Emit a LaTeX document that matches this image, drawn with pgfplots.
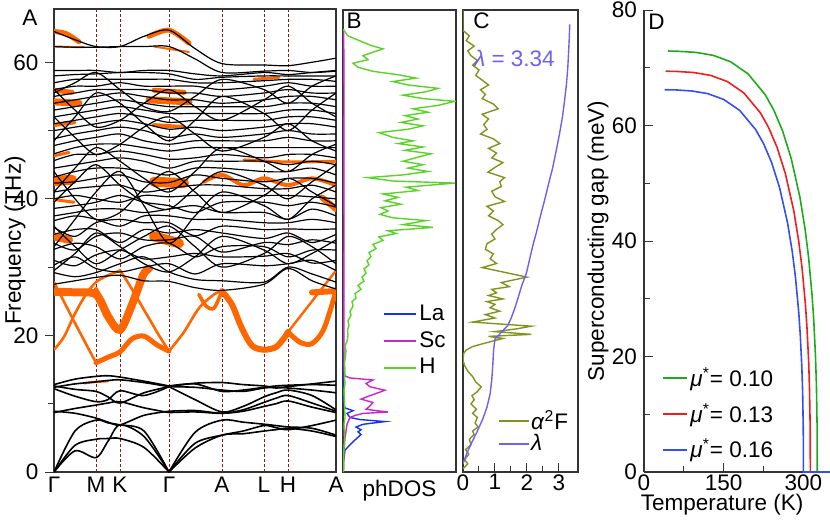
\documentclass[border=0pt]{standalone}
\usepackage{fontspec}
\setmainfont{Liberation Sans}
\usepackage{pgfplots}
\usepackage{pgfplotstable}
\pgfplotsset{compat=1.18}

\newcommand\ff{\fontsize{11.25}{13.5}\selectfont}

\definecolor{orng}{RGB}{255,102,0}
\definecolor{vlc}{RGB}{140,26,26}
\definecolor{laBlue}{RGB}{20,50,240}
\definecolor{scMag}{RGB}{200,40,200}
\definecolor{hGreen}{RGB}{90,210,40}
\definecolor{olive2}{RGB}{128,148,30}
\definecolor{lamCol}{RGB}{112,96,240}
\definecolor{dGreen}{RGB}{30,170,30}
\definecolor{dRed}{RGB}{240,30,30}
\definecolor{dBlue}{RGB}{50,80,240}

\pgfplotsset{
  panel/.style={scale only axis, anchor=south west, font=\ff,
    tick label style={font=\ff}, label style={font=\ff},
    xticklabel style={inner sep=1pt},
    /pgf/number format/assume math mode=true,
    axis line style={black!80, line width=0.6pt},
    tick style={black!80, line width=0.5pt}},
  bk/.style={black, line width=0.6pt, smooth},
  fat/.style={draw=orng, line width=#1, line cap=round, smooth},
  vl/.style={vlc, line width=0.5pt, dash pattern=on 1.5pt off 1pt},
}

% low-frequency branches (heavy atoms), x = path position
\pgfplotstableread{
x     b1   b2   b3   b4   b5   b6   b7   b8   b9
0     0    0    0    8.9  8.7  12.2 12.6 12.4 12.8
21    3.1  3.9  6.0  8.6  9.3  11.1 12.1 12.9 13.6
42    2.1  4.8  7.6  7.9  9.8  10.3 11.8 13.2 14.0
54    4.5  4.9  7.2  7.3  10.1 10.6 11.0 13.4 14.1
66    6.9  4.9  6.9  6.9  10.3 11.9 10.1 13.5 13.9
90    5.2  3.6  6.0  8.3  9.4  11.2 11.6 13.1 13.3
115   0    0    0    8.9  8.7  12.5 12.5 12.5 12.6
141   3.5  4.2  5.8  9.0  8.8  10.6 12.4 13.0 12.9
168   5.4  5.4  7.6  8.6  8.6  8.8  12.0 13.1 11.8
189   5.6  6.0  7.3  8.9  9.1  9.6  11.8 12.8 12.0
210   6.0  6.8  7.0  9.6  10.2 11.0 12.3 12.6 12.4
222   6.2  6.5  6.8  10.0 10.8 11.6 12.4 12.3 12.6
234   6.4  6.2  6.6  10.4 11.2 12.0 12.3 12.5 12.7
258   6.0  6.8  6.4  9.5  10.1 11.2 12.0 12.9 12.8
282   5.2  7.6  5.4  8.7  8.9  9.1  11.6 13.3 12.7
}\lowtab

\begin{document}
\begin{tikzpicture}
\useasboundingbox (0,0) rectangle (415pt,260.5pt);

% ---------------- A: phonon bands
\begin{axis}[panel, at={(27pt,24.5pt)}, width=141pt, height=231.5pt,
  xmin=0, xmax=282, ymin=0, ymax=67.8,
  xtick={0,42,66,115,168,210,234,282},
  xticklabels={Γ,M,K,Γ,A,L,H,A},
  x tick style={draw=none}, xticklabel style={yshift=3pt},
  ytick={0,20,40,60}, minor ytick={10,30,50},
  ytick pos=left, tick align=outside,
  ylabel={Frequency (THz)},
  ylabel style={at={(axis description cs:-0.138,0.5)}, anchor=center}]
\pgfplotsinvokeforeach{42,66,115,168,210,234}{
  \addplot[vl] coordinates {(#1,0) (#1,67.8)};
}
% fat bands (H weight)
\addplot[fat=4pt] coordinates {(0,26.4)(21,26.3)(42,26.0)(54,22.8)(66,20.8)(78,24.5)(89,28.8)(95,29.8)};
\addplot[fat=2pt] coordinates {(42,26.8)(50,24.6)(60,21.6)(66,20.6)};
\addplot[fat=1.3pt] coordinates {(0,17.9)(10,19.8)(21,23.2)(32,26.0)(42,27.8)(54,28.8)(66,29.5)};
\addplot[fat=1.3pt] coordinates {(0,27.8)(21,21.8)(42,16.0)};
\addplot[fat=2.5pt] coordinates {(42,16.0)(54,16.8)(66,17.6)(78,19.5)(90,19.9)(103,18.6)(115,17.7)};
\addplot[fat=1.3pt] coordinates {(115,17.7)(105,20)(95,22.5)(85,25)(75,27.5)(66,29.5)};
\addplot[fat=1.3pt] coordinates {(115,17.7)(130,20.5)(145,24.0)(160,26.0)(168,26.5)};
\addplot[fat=1.8pt] coordinates {(145,26.0)(152,24.3)(160,24.0)(168,26.5)};
\addplot[fat=3pt] coordinates {(168,26.5)(178,24.5)(188,21.0)(198,18.5)(210,17.9)(222,18.3)(230,19.6)(234,20.5)};
\addplot[fat=2.5pt] coordinates {(234,20.5)(246,19.0)(258,18.8)(270,21.0)(282,26.5)};
\addplot[fat=1.2pt] coordinates {(234,20.5)(258,25.0)(282,29.5)};
\addplot[fat=3pt] coordinates {(258,26.3)(270,26.4)(282,26.5)};
\addplot[fat=1.2pt] coordinates {(30,13.0)(42,13.2)(54,13.3)};
\addplot[fat=2.5pt] coordinates {(0,64.5)(12,64.2)(25,63.0)};
\addplot[fat=2.5pt] coordinates {(95,63.8)(115,64.7)(135,62.8)};
\addplot[fat=1pt] coordinates {(0,62.3)(30,62.2)};
\addplot[fat=1pt] coordinates {(100,62.3)(135,61.5)};
\addplot[fat=2.5pt] coordinates {(0,55.9)(18,55.6)};
\addplot[fat=2.5pt] coordinates {(100,55.9)(130,55.6)};
\addplot[fat=3.5pt] coordinates {(0,54.2)(25,54.0)};
\addplot[fat=3.5pt] coordinates {(95,54.5)(135,54.2)};
\addplot[fat=2pt] coordinates {(0,50.8)(20,51.2)};
\addplot[fat=2pt] coordinates {(100,50.8)(130,50.5)};
\addplot[fat=1.5pt] coordinates {(0,46.3)(15,46.8)};
\addplot[fat=5pt] coordinates {(0,42.6)(18,42.8)};
\addplot[fat=5pt] coordinates {(100,42.5)(130,42.3)};
\addplot[fat=1.5pt] coordinates {(0,39.9)(20,39.5)};
\addplot[fat=4pt] coordinates {(0,34.5)(15,34.0)};
\addplot[fat=5pt] coordinates {(100,34.5)(125,33.5)};
\addplot[fat=2pt] coordinates {(150,42.5)(168,43.5)(190,42.0)(210,43.0)(234,42.0)(258,43.0)(282,42.0)};
\addplot[fat=1.5pt] coordinates {(190,45.7)(234,45.4)(282,45.5)};
\addplot[fat=3pt] coordinates {(268,40.2)(282,38.5)};
\addplot[fat=1.5pt] coordinates {(200,57.5)(225,57.8)};
% upper branches
\addplot[bk] coordinates {(0,27.5)(21,28.0)(42,28.5)(66,28.8)(90,28.0)(115,27.9)(141,27.0)(168,26.6)(210,27.5)(234,29.8)(258,28.0)(282,26.8)};
\addplot[bk] coordinates {(0,29.2)(21,28.6)(42,29.2)(66,30.5)(90,31.5)(115,29.3)(141,28.2)(168,28.0)(210,27.8)(234,30.0)(258,29.0)(282,27.8)};
\addplot[bk] coordinates {(0,30.3)(21,31.5)(42,29.8)(66,29.3)(90,30.0)(115,30.5)(141,29.0)(168,30.5)(210,30.2)(234,30.5)(258,31.0)(282,29.5)};
\addplot[bk] coordinates {(0,31.0)(21,30.2)(42,31.8)(66,32.5)(90,31.2)(115,31.5)(141,32.0)(168,31.5)(210,31.6)(234,32.0)(258,30.6)(282,31.0)};
\addplot[bk] coordinates {(0,32.6)(21,33.5)(42,33.0)(66,31.2)(90,33.0)(115,33.5)(141,31.5)(168,33.0)(210,33.0)(234,31.5)(258,32.5)(282,32.5)};
\addplot[bk] coordinates {(0,33.5)(21,32.5)(42,34.5)(66,35.0)(90,34.0)(115,34.0)(141,34.5)(168,32.2)(210,33.6)(234,33.3)(258,34.0)(282,33.5)};
\addplot[bk] coordinates {(0,34.8)(21,35.5)(42,35.5)(66,33.6)(90,35.5)(115,35.0)(141,35.5)(168,35.0)(210,34.2)(234,35.0)(258,33.6)(282,34.8)};
\addplot[bk] coordinates {(0,35.8)(21,34.5)(42,36.5)(66,37.0)(90,36.5)(115,36.5)(141,34.6)(168,36.0)(210,35.5)(234,35.6)(258,35.5)(282,35.6)};
\addplot[bk] coordinates {(0,36.8)(21,37.5)(42,37.0)(66,36.0)(90,37.5)(115,37.5)(141,37.0)(168,37.0)(210,36.5)(234,36.5)(258,37.0)(282,36.5)};
\addplot[bk] coordinates {(0,37.5)(21,38.0)(42,38.5)(66,38.5)(90,38.0)(115,38.5)(141,39.0)(168,38.0)(210,38.0)(234,37.0)(258,38.5)(282,37.5)};
\addplot[bk] coordinates {(0,38.6)(21,39.0)(42,39.5)(66,40.5)(90,39.5)(115,39.0)(141,38.0)(168,39.5)(210,39.5)(234,39.0)(258,39.5)(282,38.8)};
\addplot[bk] coordinates {(0,40.0)(21,40.5)(42,40.0)(66,39.5)(90,40.5)(115,40.3)(141,40.5)(168,40.5)(210,40.5)(234,40.5)(258,40.3)(282,40.0)};
\addplot[bk] coordinates {(0,41.0)(21,41.5)(42,41.8)(66,42.0)(90,41.0)(115,41.5)(141,42.0)(168,42.0)(210,41.5)(234,41.5)(258,42.0)(282,41.0)};
\addplot[bk] coordinates {(0,42.3)(21,42.5)(42,43.0)(66,43.5)(90,42.5)(115,42.4)(141,43.5)(168,43.0)(210,42.5)(234,43.0)(258,43.0)(282,42.3)};
\addplot[bk] coordinates {(0,43.2)(21,44.0)(42,44.5)(66,44.5)(90,44.0)(115,43.5)(141,44.5)(168,44.5)(210,44.0)(234,44.0)(258,44.5)(282,43.5)};
\addplot[bk] coordinates {(0,44.5)(21,45.0)(42,45.5)(66,46.0)(90,45.5)(115,44.5)(141,45.5)(168,45.5)(210,45.5)(234,45.0)(258,45.5)(282,45.0)};
\addplot[bk] coordinates {(0,45.6)(21,46.5)(42,46.5)(66,47.0)(90,46.5)(115,45.8)(141,46.0)(168,46.5)(210,46.0)(234,46.5)(258,46.5)(282,46.0)};
\addplot[bk] coordinates {(0,46.6)(21,47.5)(42,48.0)(66,48.0)(90,47.5)(115,47.0)(141,47.5)(168,47.5)(210,47.5)(234,47.5)(258,47.5)(282,47.5)};
\addplot[bk] coordinates {(0,47.8)(21,48.5)(42,49.0)(66,49.5)(90,48.5)(115,48.0)(141,48.5)(168,48.5)(210,48.5)(234,49.0)(258,48.5)(282,48.5)};
\addplot[bk] coordinates {(0,48.8)(21,49.5)(42,50.0)(66,50.5)(90,50.0)(115,49.0)(141,49.5)(168,49.0)(210,49.5)(234,50.0)(258,49.5)(282,49.5)};
\addplot[bk] coordinates {(0,50.0)(21,50.5)(42,51.0)(66,51.5)(90,51.0)(115,50.2)(141,50.5)(168,50.0)(210,50.5)(234,51.0)(258,51.0)(282,50.5)};
\addplot[bk] coordinates {(0,51.0)(21,51.5)(42,52.0)(66,52.5)(90,52.0)(115,51.2)(141,51.5)(168,51.5)(210,51.5)(234,52.0)(258,52.0)(282,51.5)};
\addplot[bk] coordinates {(0,52.0)(21,52.5)(42,53.0)(66,53.5)(90,53.0)(115,52.5)(141,52.5)(168,52.5)(210,52.5)(234,53.0)(258,53.0)(282,52.5)};
\addplot[bk] coordinates {(0,53.0)(21,53.5)(42,54.0)(66,54.5)(90,54.0)(115,53.5)(141,53.5)(168,53.5)(210,53.5)(234,54.0)(258,54.0)(282,53.5)};
\addplot[bk] coordinates {(0,54.0)(21,54.5)(42,55.0)(66,55.5)(90,55.0)(115,54.5)(141,54.5)(168,54.0)(210,54.5)(234,55.0)(258,55.0)(282,54.5)};
\addplot[bk] coordinates {(0,55.0)(21,55.5)(42,56.0)(66,56.0)(90,56.0)(115,55.5)(141,55.5)(168,55.0)(210,55.5)(234,56.0)(258,55.5)(282,55.5)};
\addplot[bk] coordinates {(0,56.0)(21,56.5)(42,56.5)(66,57.0)(90,56.5)(115,56.5)(141,56.5)(168,56.0)(210,56.5)(234,57.0)(258,56.5)(282,56.5)};
\addplot[bk] coordinates {(0,57.0)(21,57.5)(42,57.5)(66,57.5)(90,57.5)(115,57.5)(141,57.0)(168,57.0)(210,57.3)(234,57.5)(258,57.5)(282,57.2)};
\addplot[bk] coordinates {(0,58.0)(21,58.2)(42,58.3)(66,58.5)(90,58.5)(115,58.3)(141,57.5)(168,57.8)(210,58.0)(234,58.0)(258,58.0)(282,58.0)};
\addplot[bk] coordinates {(0,58.8)(21,58.8)(42,58.8)(66,58.5)(90,58.8)(115,58.8)(141,58.3)(168,58.0)(210,58.5)(234,58.2)(258,58.5)(282,58.8)};
\addplot[bk] coordinates {(0,33.0)(21,37.0)(42,41.0)(66,44.0)(90,39.0)(115,33.5)(141,37.5)(168,41.0)(210,39.0)(234,37.0)(258,40.0)(282,42.0)};
\addplot[bk] coordinates {(0,44.0)(21,40.0)(42,37.0)(66,38.0)(90,41.5)(115,44.0)(141,41.0)(168,38.0)(210,40.5)(234,43.0)(258,41.0)(282,39.0)};
\addplot[bk] coordinates {(0,52.0)(21,49.0)(42,46.5)(66,48.0)(90,50.5)(115,52.0)(141,49.5)(168,47.0)(210,49.0)(234,51.0)(258,48.5)(282,47.0)};
\addplot[bk] coordinates {(0,48.5)(21,52.0)(42,55.5)(66,54.0)(90,51.0)(115,48.5)(141,51.5)(168,55.0)(210,52.5)(234,50.0)(258,53.0)(282,55.5)};
\addplot[bk] coordinates {(0,56.0)(21,53.0)(42,50.5)(66,51.5)(90,54.0)(115,56.0)(141,53.5)(168,51.5)(210,54.5)(234,56.5)(258,54.0)(282,52.0)};
\addplot[bk] coordinates {(0,41.0)(21,44.5)(42,47.5)(66,45.5)(90,43.0)(115,41.0)(141,44.0)(168,47.5)(210,45.5)(234,44.0)(258,46.5)(282,48.0)};
\addplot[bk] coordinates {(0,36.0)(21,33.0)(42,30.5)(66,32.5)(90,34.5)(115,36.0)(141,33.0)(168,30.0)(210,32.0)(234,34.5)(258,33.0)(282,30.5)};
\addplot[bk] coordinates {(0,29.5)(21,32.0)(42,35.0)(66,33.0)(90,30.5)(115,29.3)(141,31.5)(168,34.5)(210,32.5)(234,30.5)(258,32.0)(282,34.0)};
\addplot[bk] coordinates {(0,39.5)(21,42.5)(42,45.0)(66,42.0)(90,39.5)(115,38.5)(141,41.5)(168,44.0)(210,42.0)(234,40.0)(258,42.5)(282,45.0)};
\addplot[bk] coordinates {(0,55.5)(21,57.0)(42,58.5)(66,56.0)(90,53.5)(115,52.8)(141,55.0)(168,57.5)(210,56.0)(234,54.0)(258,56.5)(282,58.0)};
\addplot[bk] coordinates {(0,64.5)(21,63.3)(42,62.3)(66,62.3)(90,63.8)(115,64.7)(141,62.0)(168,59.8)(210,59.6)(234,59.5)(258,60.0)(282,60.6)};
\addplot[bk] coordinates {(0,62.3)(21,62.2)(42,62.2)(66,62.3)(90,62.3)(115,62.3)(141,60.5)(168,58.5)(210,58.7)(234,58.8)(258,58.5)(282,58.7)};
% low branches, split at the second Gamma
\pgfplotsinvokeforeach{1,...,9}{
  \addplot[bk, line width=0.8pt, restrict x to domain=0:115] table[x=x, y=b#1] {\lowtab};
  \addplot[bk, line width=0.8pt, restrict x to domain=115:282] table[x=x, y=b#1] {\lowtab};
}
\end{axis}
\node[font=\ff] at (15pt,251.5pt) {A};

% ---------------- B: phonon DOS
\begin{axis}[panel, at={(171.5pt,24.5pt)}, width=56.5pt, height=231pt,
  xmin=0, xmax=113, ymin=0, ymax=67.8, xtick=\empty, ytick=\empty,
  xlabel={phDOS},
  xlabel style={at={(axis description cs:0.5,-0.04)}, anchor=center},
  legend cell align=left,
  legend style={draw=none, fill=none, font=\ff, at={(rel axis cs:0.3,0.375)},
    anchor=north west, nodes={inner sep=1pt}, row sep=2pt}]
\addplot[color=laBlue, line width=0.7pt, forget plot] coordinates {(0.5,1.5)(2,3.2)(7,4.0)(12,4.7)(18,5.5)(15,5.9)(18,6.2)(13,6.6)(20,7.0)(42,7.4)(17,7.7)(7,8.0)(4,8.6)(10,9.0)(2,9.4)(1,10)(0.5,12)(0.3,20)};
\addplot[color=scMag, line width=0.7pt, forget plot] coordinates {(0.5,0)(1,3)(2,5)(4,7)(7,8.0)(12,8.3)(20,8.6)(45,8.8)(23,9.2)(27,9.7)(30,10.2)(18,10.7)(27,11.2)(42,12.0)(27,12.5)(23,13.0)(30,13.5)(7,13.8)(2,14.1)(1,15)(0.8,25)(1,35)(0.8,45)(1,55)(0.8,62)(0.5,65)};
\addplot[color=hGreen, line width=0.7pt, forget plot] coordinates {(0.5,0)(0.8,3)(1.5,5)(1,7)(2,8)(1.5,10)(1,12)(2,13)(1.5,14)(2,15)(1.5,16)(2.5,17)(3,17.8)(2,18.5)(4,19.2)(5,20)(4.5,20.8)(6,21.5)(5,22.2)(8,23)(7,23.6)(10,24.3)(9,25)(13,25.5)(12,26.2)(18,26.8)(15,27.4)(21,28)(19,28.6)(23,29.2)(21,29.8)(26,30.4)(24,31)(28,31.6)(26,32.2)(33,32.8)(30,33.4)(40,34)(36,34.5)(53,35)(45,35.4)(90,35.9)(60,36.3)(83,36.9)(50,37.3)(37,37.8)(45,38.3)(38,38.8)(58,39.3)(42,39.8)(55,40.3)(40,40.8)(75,41.3)(63,41.8)(112,42.4)(50,42.7)(25,43.2)(60,43.6)(85,44.1)(65,44.6)(80,45.1)(60,45.6)(75,46.2)(88,46.7)(62,47.2)(80,47.7)(55,48.2)(70,48.6)(50,49.1)(36,49.8)(65,50.3)(80,50.8)(58,51.3)(75,51.8)(62,52.3)(85,52.8)(70,53.3)(95,53.8)(112,54.4)(80,54.8)(60,55.3)(83,55.8)(95,56.3)(65,56.8)(50,57.3)(73,57.8)(55,58.3)(30,58.8)(15,59.4)(10,60)(25,60.5)(20,61.1)(40,62.1)(28,62.6)(18,63.2)(5,64)(0,65)};
\addlegendimage{legend image code/.code={\draw[color=laBlue, line width=1pt] (0pt,0pt) -- (16pt,0pt);}}
\addlegendentry{La}
\addlegendimage{legend image code/.code={\draw[color=scMag, line width=1pt] (0pt,0pt) -- (16pt,0pt);}}
\addlegendentry{Sc}
\addlegendimage{legend image code/.code={\draw[color=hGreen, line width=1pt] (0pt,0pt) -- (16pt,0pt);}}
\addlegendentry{H}
\end{axis}
\node[font=\ff] at (177pt,250pt) {B};

% ---------------- C: Eliashberg function and lambda
\begin{axis}[panel, at={(231.5pt,24.5pt)}, width=57.5pt, height=231pt,
  xmin=0, xmax=3.6, ymin=0, ymax=67.8,
  xtick={0,1,2,3}, minor tick num=1, xtick pos=bottom, tick align=inside,
  ytick=\empty,
  legend cell align=left,
  legend style={draw=none, fill=none, font=\ff, at={(rel axis cs:0.25,0.145)},
    anchor=north west, nodes={inner sep=0.5pt}, row sep=0pt}]
\addplot[color=olive2, line width=0.7pt, forget plot] coordinates {(0.00,0.5)(0.15,1.2)(0.05,1.8)(0.18,2.6)(0.08,3.3)(0.25,4.0)(0.20,4.8)(0.35,5.5)(0.30,6.0)(0.47,6.6)(0.38,7.2)(0.45,8.0)(0.30,8.6)(0.42,9.2)(0.25,10.0)(0.35,10.6)(0.28,11.2)(0.45,11.8)(0.57,12.5)(0.40,13.2)(0.30,14.0)(0.15,14.8)(0.05,15.6)(0.00,16.4)(0.02,17.4)(0.10,17.9)(0.30,18.4)(0.60,18.8)(1.25,19.6)(0.80,19.9)(2.14,20.2)(1.00,20.6)(1.67,21.0)(2.14,21.4)(0.30,22.0)(1.00,22.6)(0.70,23.1)(1.15,23.6)(0.85,24.1)(1.00,24.6)(0.75,25.0)(1.25,25.4)(0.80,25.9)(1.05,26.3)(0.90,26.8)(1.45,27.2)(1.20,27.8)(2.00,28.6)(1.30,29.3)(0.60,30.0)(1.05,30.6)(0.85,31.3)(0.95,32.0)(0.70,32.7)(0.75,33.5)(1.00,34.2)(0.90,34.9)(1.05,35.6)(1.25,36.3)(1.10,36.9)(0.80,37.6)(0.95,38.3)(0.75,39.0)(1.30,39.7)(1.00,40.4)(0.90,41.2)(1.20,41.9)(1.15,42.6)(1.30,43.2)(0.78,44.0)(1.00,44.7)(1.25,45.4)(0.90,46.1)(1.05,46.8)(0.80,47.5)(1.15,48.2)(0.95,48.9)(0.55,49.6)(0.75,50.3)(0.65,51.0)(0.80,51.8)(0.60,52.5)(1.10,53.3)(0.95,54.0)(0.60,54.8)(0.70,55.4)(0.55,56.1)(0.80,56.8)(0.60,57.5)(0.40,58.2)(0.50,59.0)(0.30,59.7)(0.45,60.4)(0.25,61.1)(0.15,61.8)(0.35,62.5)(0.10,63.3)(0.20,64.0)(0.00,64.8)(0.00,67.8)};
\addplot[color=lamCol, line width=0.7pt, forget plot] coordinates {(0.00,1.2)(0.10,2.5)(0.26,4.2)(0.45,6.0)(0.62,7.8)(0.75,9.5)(0.85,11.5)(0.90,13.5)(0.93,15.5)(0.96,18.0)(1.00,19.5)(1.20,20.5)(1.40,21.5)(1.50,22.5)(1.62,24.0)(1.72,25.5)(1.85,27.5)(1.98,29.1)(2.10,31.5)(2.20,33.5)(2.29,35.0)(2.42,37.5)(2.55,39.8)(2.68,42.3)(2.81,44.7)(2.92,47.2)(3.02,49.6)(3.11,52.0)(3.18,54.5)(3.24,57.0)(3.28,59.3)(3.31,62.0)(3.33,64.0)(3.34,65.7)};
\addlegendimage{legend image code/.code={\draw[color=olive2, line width=1pt] (0pt,0pt) -- (15pt,0pt);}}
\addlegendentry{\textit{α}\textsuperscript{2}F}
\addlegendimage{legend image code/.code={\draw[color=lamCol, line width=1pt] (0pt,0pt) -- (15pt,0pt);}}
\addlegendentry{\textit{λ}}
\end{axis}
\node[font=\ff] at (240.75pt,250pt) {C};
\node[font=\ff, text=lamCol] at (257.25pt,231.5pt) {\textit{λ} = 3.34};

% ---------------- D: superconducting gap
\begin{axis}[panel, at={(322pt,24.5pt)}, width=93pt, height=231pt,
  xmin=0, xmax=350, ymin=0, ymax=80,
  axis lines=left, axis line style={-},
  xtick={0,150,300}, ytick={0,20,40,60,80}, minor tick num=1, tick align=inside,
  xlabel={Temperature (K)}, ylabel={Superconducting gap (meV)},
  xlabel style={at={(axis description cs:0.42,-0.07)}, anchor=center},
  ylabel style={at={(axis description cs:-0.247,0.5)}, anchor=center},
  legend cell align=left,
  legend style={draw=none, fill=none, font=\ff, at={(rel axis cs:0.065,0.24)},
    anchor=north west, nodes={inner sep=1pt}, row sep=5pt}]
\addplot[color=dGreen, line width=0.8pt, forget plot] coordinates {(45,72.9)(65.2,72.85)(97.8,72.66)(130.4,72.15)(163,71.04)(195.6,68.96)(228.2,65.32)(244.5,62.61)(260.8,59.05)(277.1,54.26)(293.4,47.57)(303.2,42.00)(309.7,37.16)(316.2,30.66)(319.5,26.23)(322.7,20.00)(324.4,15.21)(325.7,8.00)(326,0)(350,0)};
\addplot[color=dRed, line width=0.8pt, forget plot] coordinates {(40.7,69.4)(62.6,69.36)(93.9,69.17)(125.2,68.68)(156.5,67.63)(187.8,65.65)(219.1,62.18)(234.75,59.60)(250.4,56.21)(266.05,51.66)(281.7,45.29)(291.1,39.98)(297.35,35.37)(303.6,29.19)(306.7,24.97)(309.9,19.04)(311.4,14.48)(312.7,7.62)(313,0)(350,0)};
\addplot[color=dBlue, line width=0.8pt, forget plot] coordinates {(39,66.2)(60,66.16)(90,65.98)(120,65.52)(150,64.51)(180,62.62)(210,59.31)(225,56.86)(240,53.62)(255,49.28)(270,43.20)(279,38.14)(285,33.74)(291,27.84)(294,23.82)(297,18.16)(298.5,13.82)(299.7,7.27)(300,0)(350,0)};
\addlegendimage{legend image code/.code={\draw[color=dGreen, line width=1pt] (0pt,0pt) -- (12pt,0pt);}}
\addlegendentry{\textit{μ}\textsuperscript{*}= 0.10}
\addlegendimage{legend image code/.code={\draw[color=dRed, line width=1pt] (0pt,0pt) -- (12pt,0pt);}}
\addlegendentry{\textit{μ}\textsuperscript{*}= 0.13}
\addlegendimage{legend image code/.code={\draw[color=dBlue, line width=1pt] (0pt,0pt) -- (12pt,0pt);}}
\addlegendentry{\textit{μ}\textsuperscript{*}= 0.16}
\end{axis}
\node[font=\ff] at (328.25pt,249.5pt) {D};
\end{tikzpicture}
\end{document}
